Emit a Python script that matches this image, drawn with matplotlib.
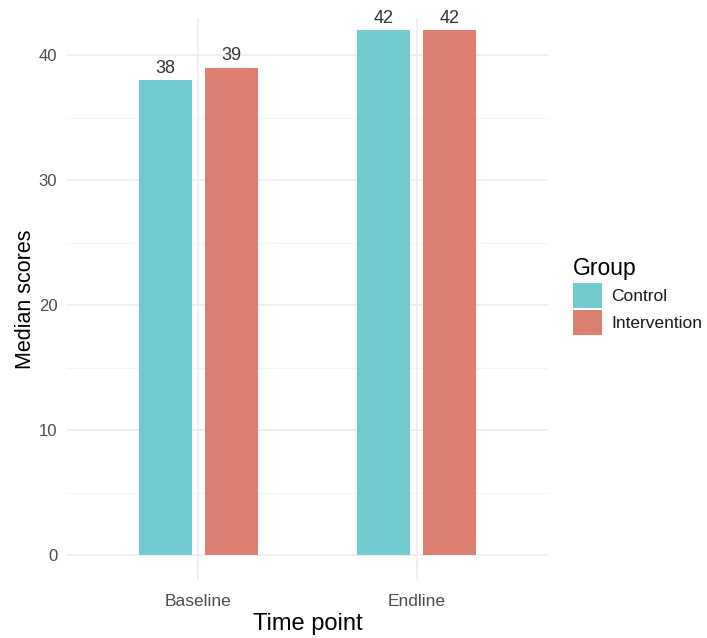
import matplotlib
matplotlib.use("Agg")
import matplotlib.pyplot as plt
import numpy as np
from matplotlib.patches import Patch

timepoints = ["Baseline", "Endline"]
groups = ["Control", "Intervention"]
control = [38, 42]
intervention = [39, 42]
colors = ["#71CBCE", "#DB8073"]

plt.rcParams['font.family'] = ['Liberation Sans', 'DejaVu Sans']

W, H = 707, 638
fig = plt.figure(figsize=(W/100, H/100), dpi=100)
ax = fig.add_axes([67/W, (H-580)/H, (548-67)/W, (580-18)/H])

x = np.arange(1, len(timepoints)+1)
bw = 0.243
off = 0.151
series = [control, intervention]
for i, (vals, c) in enumerate(zip(series, colors)):
    xs = x + (-off if i == 0 else off)
    ax.bar(xs, vals, width=bw, color=c, zorder=3, label=groups[i])
    for xi, v in zip(xs, vals):
        ax.text(xi, v + 0.3, str(v), ha='center', va='bottom', fontsize=13, color='#333333', zorder=4)

ax.set_xlim(0.4, 2.6)
ax.set_ylim(-2.0, 43.0)
ax.set_yticks([0, 10, 20, 30, 40])
ax.set_yticks([5, 15, 25, 35], minor=True)
ax.set_xticks(x)
ax.set_xticklabels(timepoints)
ax.grid(True, which='major', color='#EBEBEB', linewidth=1.1, zorder=0)
ax.grid(True, which='minor', axis='y', color='#F2F2F2', linewidth=0.6, zorder=0)
for s in ax.spines.values():
    s.set_visible(False)
ax.tick_params(which='both', length=0)
ax.tick_params(axis='x', labelsize=12.5, labelcolor='#4D4D4D', pad=10)
ax.tick_params(axis='y', labelsize=12, labelcolor='#4D4D4D', pad=7)
ax.set_xlabel("Time point", fontsize=17, color='black', labelpad=3)
ax.set_ylabel("Median scores", fontsize=15.5, color='black', labelpad=2)

handles = [Patch(facecolor=c, edgecolor='none') for c in colors]
leg = fig.legend(handles, groups, title="Group", loc='upper left',
                 bbox_to_anchor=(573/W, 1-257/H), frameon=False, borderpad=0,
                 borderaxespad=0,
                 fontsize=12.5, title_fontsize=16.5, handlelength=1.65, handleheight=1.85,
                 handletextpad=0.55, labelspacing=0.15, alignment='left')
for t in leg.get_texts():
    t.set_color('#1a1a1a')

fig.savefig("out.png", dpi=100)
